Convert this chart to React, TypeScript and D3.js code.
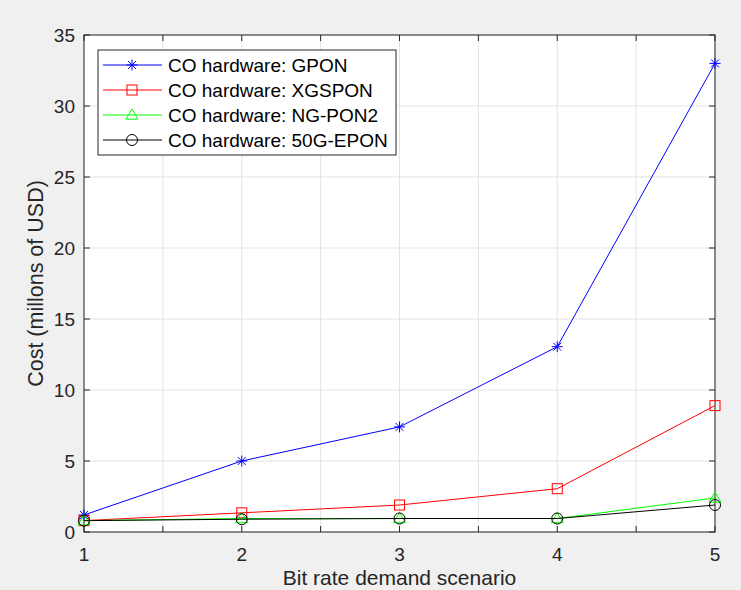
import * as d3 from 'd3'
import { useEffect, useRef } from 'react'

const scenarios = [1, 2, 3, 4, 5]
const gpon = [1.2, 5.0, 7.4, 13.05, 33.0]
const xgspon = [0.8, 1.35, 1.9, 3.05, 8.9]
const ngpon2 = [0.8, 0.95, 0.95, 0.95, 2.4]
const epon50g = [0.8, 0.9, 0.95, 0.95, 1.9]

const xTicks = [1, 1.5, 2, 2.5, 3, 3.5, 4, 4.5, 5]
const yTicks = [0, 5, 10, 15, 20, 25, 30, 35]

const SERIES = [
  { name: 'CO hardware: GPON', values: gpon, color: '#0000ff', marker: 'star' },
  { name: 'CO hardware: XGSPON', values: xgspon, color: '#ff0000', marker: 'square' },
  { name: 'CO hardware: NG-PON2', values: ngpon2, color: '#00ff00', marker: 'triangle' },
  { name: 'CO hardware: 50G-EPON', values: epon50g, color: '#000000', marker: 'circle' },
]

const W = 741
const H = 590
const FONT = '"Liberation Sans", Arial, Helvetica, sans-serif'
const AXIS = '#262626'

function drawMarker(g: d3.Selection<SVGGElement, unknown, null, undefined>, kind: string, x: number, y: number, color: string) {
  if (kind === 'star') {
    const r = 5.5
    const d = r * 0.72
    g.append('path')
      .attr('d', `M${x - r},${y}H${x + r}M${x},${y - r}V${y + r}M${x - d},${y - d}L${x + d},${y + d}M${x - d},${y + d}L${x + d},${y - d}`)
      .attr('stroke', color)
      .attr('stroke-width', 1)
      .attr('fill', 'none')
  } else if (kind === 'square') {
    const s = 5
    g.append('rect')
      .attr('x', x - s)
      .attr('y', y - s)
      .attr('width', 2 * s)
      .attr('height', 2 * s)
      .attr('fill', 'none')
      .attr('stroke', color)
      .attr('stroke-width', 1)
  } else if (kind === 'triangle') {
    const s = 6
    g.append('path')
      .attr('d', `M${x},${y - s}L${x + s},${y + s * 0.7}L${x - s},${y + s * 0.7}Z`)
      .attr('fill', 'none')
      .attr('stroke', color)
      .attr('stroke-width', 1)
  } else {
    g.append('circle')
      .attr('cx', x)
      .attr('cy', y)
      .attr('r', 5.5)
      .attr('fill', 'none')
      .attr('stroke', color)
      .attr('stroke-width', 1)
  }
}

export default function App() {
  const ref = useRef<SVGSVGElement | null>(null)

  useEffect(() => {
    const svgEl = ref.current
    if (!svgEl) return
    const svg = d3.select(svgEl)
    svg.selectAll('*').remove()

    const left = 84
    const right = 715
    const top = 35
    const bottom = 532

    const x = d3.scaleLinear().domain([1, 5]).range([left, right])
    const y = d3.scaleLinear().domain([0, 35]).range([bottom, top])

    svg.append('rect').attr('width', W).attr('height', H).attr('fill', '#f0f0f0')
    svg.append('rect')
      .attr('x', left)
      .attr('y', top)
      .attr('width', right - left)
      .attr('height', bottom - top)
      .attr('fill', '#ffffff')

    const grid = svg.append('g').attr('stroke', '#e3e3e3').attr('stroke-width', 1)
    xTicks.forEach((t) => {
      grid.append('line').attr('x1', x(t)).attr('x2', x(t)).attr('y1', top).attr('y2', bottom)
    })
    yTicks.forEach((t) => {
      grid.append('line').attr('x1', left).attr('x2', right).attr('y1', y(t)).attr('y2', y(t))
    })

    // box + inward ticks on all sides
    const axes = svg.append('g').attr('stroke', AXIS).attr('stroke-width', 1).attr('fill', 'none')
    axes.append('rect').attr('x', left).attr('y', top).attr('width', right - left).attr('height', bottom - top)
    const tl = 6
    xTicks.forEach((t) => {
      axes.append('line').attr('x1', x(t)).attr('x2', x(t)).attr('y1', bottom).attr('y2', bottom - tl)
      axes.append('line').attr('x1', x(t)).attr('x2', x(t)).attr('y1', top).attr('y2', top + tl)
    })
    yTicks.forEach((t) => {
      axes.append('line').attr('x1', left).attr('x2', left + tl).attr('y1', y(t)).attr('y2', y(t))
      axes.append('line').attr('x1', right).attr('x2', right - tl).attr('y1', y(t)).attr('y2', y(t))
    })

    const labels = svg.append('g').attr('font-family', FONT).attr('fill', AXIS)
    scenarios.forEach((t) => {
      labels.append('text')
        .attr('x', x(t))
        .attr('y', 561)
        .attr('text-anchor', 'middle')
        .attr('font-size', 19)
        .text(String(t))
    })
    yTicks.forEach((t) => {
      labels.append('text')
        .attr('x', 75)
        .attr('y', y(t) + 7)
        .attr('text-anchor', 'end')
        .attr('font-size', 19)
        .text(String(t))
    })
    labels.append('text')
      .attr('x', (left + right) / 2)
      .attr('y', 585)
      .attr('text-anchor', 'middle')
      .attr('font-size', 21)
      .text('Bit rate demand scenario')
    labels.append('text')
      .attr('transform', `translate(43,${(top + bottom) / 2}) rotate(-90)`)
      .attr('text-anchor', 'middle')
      .attr('font-size', 21.5)
      .text('Cost (millons of USD)')

    const line = d3
      .line<number>()
      .x((_, i) => x(scenarios[i]))
      .y((d) => y(d))

    SERIES.forEach((s) => {
      const g = svg.append('g')
      g.append('path')
        .attr('d', line(s.values) ?? '')
        .attr('fill', 'none')
        .attr('stroke', s.color)
        .attr('stroke-width', 1)
      s.values.forEach((v, i) => drawMarker(g, s.marker, x(scenarios[i]), y(v), s.color))
    })

    // legend
    const lg = svg.append('g')
    lg.append('rect')
      .attr('x', 98)
      .attr('y', 50)
      .attr('width', 298)
      .attr('height', 105)
      .attr('fill', '#ffffff')
      .attr('stroke', AXIS)
      .attr('stroke-width', 1)
    SERIES.forEach((s, i) => {
      const ry = 65 + i * 25
      lg.append('line')
        .attr('x1', 103)
        .attr('x2', 162)
        .attr('y1', ry)
        .attr('y2', ry)
        .attr('stroke', s.color)
        .attr('stroke-width', 1)
      drawMarker(lg, s.marker, 132, ry, s.color)
      lg.append('text')
        .attr('x', 168)
        .attr('y', ry + 7)
        .attr('font-family', FONT)
        .attr('font-size', 19)
        .attr('fill', '#000000')
        .text(s.name)
    })
  }, [])

  return <svg ref={ref} width={W} height={H} style={{ display: 'block', position: 'absolute', left: 0, top: 0 }} />
}
